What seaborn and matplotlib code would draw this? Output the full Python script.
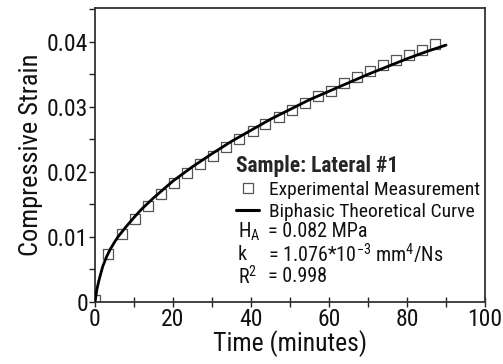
import numpy as np
import pandas as pd
import matplotlib
matplotlib.use("Agg")
import matplotlib.pyplot as plt
from matplotlib import font_manager as fm
from matplotlib.lines import Line2D
from matplotlib.ticker import MultipleLocator
import seaborn as sns

# ---- data ----
exp_time = [0.0, 3.4, 6.8, 10.2, 13.5, 16.9, 20.2, 23.6, 27.0, 30.3, 33.7, 37.0, 40.4,
            43.7, 47.1, 50.4, 53.8, 57.1, 60.5, 63.8, 67.2, 70.5, 73.9, 77.2, 80.6,
            83.9, 87.3]
exp_strain = [0.0003, 0.0074, 0.0105, 0.0128, 0.0148, 0.0166, 0.0183, 0.0198, 0.0212,
              0.0225, 0.0238, 0.0250, 0.0263, 0.0273, 0.0284, 0.0295, 0.0306, 0.0317,
              0.0325, 0.0337, 0.0346, 0.0355, 0.0364, 0.0372, 0.0380, 0.0388, 0.0396]
fit_time = [0, 0.5, 1, 2, 3, 4, 5, 6, 8, 10, 12, 15, 20, 25, 30, 35, 40, 45, 50, 55,
            60, 65, 70, 75, 80, 85, 90]
fit_strain = [0.0, 0.0020, 0.0033, 0.0055, 0.0070, 0.0082, 0.0092, 0.0101, 0.0116,
              0.0130, 0.0143, 0.0160, 0.0186, 0.0208, 0.0228, 0.0247, 0.0264, 0.0281,
              0.0296, 0.0311, 0.0324, 0.0337, 0.0350, 0.0362, 0.0374, 0.0385, 0.0395]
x_ticks = [0, 20, 40, 60, 80, 100]
y_ticks = [0, 0.01, 0.02, 0.03, 0.04]
y_tick_labels = ["0", "0.01", "0.02", "0.03", "0.04"]

sample_title = "Sample: Lateral #1"
exp_label = "Experimental Measurement"
fit_label = "Biphasic Theoretical Curve"
param_syms = [r"H$_{\mathregular{A}}$", "k", r"R$^{\mathregular{2}}$"]
param_vals = ["= 0.082 MPa", r"= 1.076*10$^{\mathregular{-3}}$ mm$^{\mathregular{4}}$/Ns", "= 0.998"]

sns.set_theme(style="ticks")

# pick a condensed sans face if one is installed, otherwise Liberation Sans
names = {f.name for f in fm.fontManager.ttflist}
condensed = {f.name for f in fm.fontManager.ttflist
             if str(f.stretch) in ("condensed", "semi-condensed", "extra-condensed",
                                   "ultra-condensed", "narrow")
             or (isinstance(f.stretch, (int, float)) and f.stretch < 500)}
main = None
stretch = "normal"
for cand in ["Liberation Sans Narrow", "Roboto Condensed", "Open Sans Condensed",
             "Noto Sans Condensed", "Arial Narrow", "DejaVu Sans Condensed"]:
    if cand in names:
        main = cand
        break
if main is None:
    for cand in ["Roboto", "Open Sans", "Noto Sans", "DejaVu Sans"]:
        if cand in condensed:
            main = cand
            stretch = "condensed"
            break
if main is None:
    main = "Liberation Sans"
FONT = [main, "DejaVu Sans"]
plt.rcParams["font.family"] = FONT
plt.rcParams["font.stretch"] = stretch
plt.rcParams["font.weight"] = "normal"
plt.rcParams["mathtext.fontset"] = "custom"
plt.rcParams["mathtext.rm"] = main
plt.rcParams["mathtext.it"] = main
scale = 1.0 if (main != "Liberation Sans") else 0.9

fig = plt.figure(figsize=(5.03, 3.64), dpi=100)
ax = fig.add_axes([95 / 503, 62 / 364, 390 / 503, 294 / 364])

exp_df = pd.DataFrame({"t": exp_time, "s": exp_strain})
fit_df = pd.DataFrame({"t": fit_time, "s": fit_strain})

sns.scatterplot(data=exp_df, x="t", y="s", marker="s", s=42, facecolor="white",
                edgecolor="#555555", linewidth=0.9, ax=ax, zorder=2)
sns.lineplot(data=fit_df, x="t", y="s", color="black", linewidth=2.0, ax=ax, zorder=3)

ax.set_xlim(0, 100)
ax.set_ylim(0, 0.0452)
ax.set_xticks(x_ticks)
ax.set_yticks(y_ticks)
ax.set_yticklabels(y_tick_labels)
ax.xaxis.set_minor_locator(MultipleLocator(10))
ax.yaxis.set_minor_locator(MultipleLocator(0.005))
ax.tick_params(axis="x", which="both", direction="inout", length=7, width=1.0,
               labelsize=17 * scale, pad=1, color="#222222", labelcolor="#111111")
ax.tick_params(axis="y", which="both", direction="out", length=4, width=1.0,
               labelsize=17 * scale, pad=1, color="#222222", labelcolor="#111111")
for sp in ax.spines.values():
    sp.set_linewidth(1.3)
    sp.set_color("#333333")

ax.set_xlabel("Time (minutes)", fontsize=18.5 * scale, labelpad=-1, color="#111111")
ax.set_ylabel("Compressive Strain", fontsize=19 * scale, labelpad=3, color="#111111")

handles = [
    Line2D([], [], marker="s", linestyle="none", markersize=6.5, markerfacecolor="white",
           markeredgecolor="#555555", markeredgewidth=0.9),
    Line2D([], [], color="black", linewidth=2.2),
]
leg = ax.legend(handles, [exp_label, fit_label], title=sample_title,
                loc="upper left", bbox_to_anchor=(232 / 503, 1 - 151 / 364),
                bbox_transform=fig.transFigure, frameon=False, fontsize=14 * scale,
                title_fontproperties={"weight": "bold", "size": 15.5 * scale,
                                      "family": FONT},
                handlelength=1.2, handletextpad=0.5, labelspacing=0.2,
                borderaxespad=0, borderpad=0.2)
leg._legend_box.align = "left"
for t in leg.get_texts():
    t.set_color("#111111")

for i, (sym, val) in enumerate(zip(param_syms, param_vals)):
    yy = 1 - (232 + 22.5 * i) / 364
    fig.text(238 / 503, yy, sym, fontsize=14.5 * scale, va="center", ha="left",
             color="#111111")
    fig.text(268 / 503, yy, val, fontsize=14.5 * scale, va="center", ha="left",
             color="#111111")

fig.savefig("out.png", dpi=100)
